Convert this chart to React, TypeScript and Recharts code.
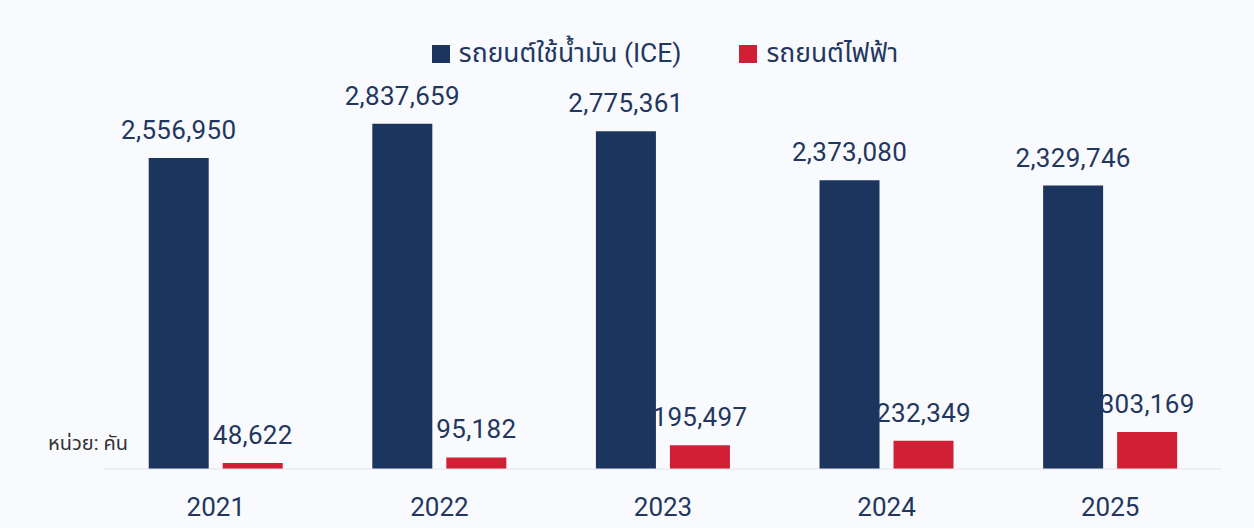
import { BarChart, Bar, XAxis, YAxis, LabelList } from 'recharts';

const years = ['2021', '2022', '2023', '2024', '2025'];
const iceSales = [2556950, 2837659, 2775361, 2373080, 2329746];
const evSales = [48622, 95182, 195497, 232349, 303169];
const seriesNames = ['รถยนต์ใช้น้ำมัน (ICE)', 'รถยนต์ไฟฟ้า'];
const unitLabel = 'หน่วย: คัน';

const NAVY = '#1C355E';
const RED = '#D11F35';
const TEXT = '#22375F';
const FONT = 'Roboto, "Noto Sans Thai", "Noto Sans", sans-serif';

const data = years.map((year, i) => ({
    year,
    ice: iceSales[i],
    ev: evSales[i],
}));

const ValueLabel = (props: any) => {
    const { x, y, width, value } = props;
    return (
        <text
            x={x + width / 2}
            y={y - 19}
            textAnchor="middle"
            fill={TEXT}
            fontSize={26}
            fontFamily={FONT}
            letterSpacing={0.3}
        >
            {Number(value).toLocaleString('en-US')}
        </text>
    );
};

const YearTick = (props: any) => {
    const { x, y, payload } = props;
    return (
        <text x={x} y={y + 39} textAnchor="middle" fill={TEXT} fontSize={26} fontFamily={FONT}>
            {payload.value}
        </text>
    );
};

export default function App() {
    const colors = [NAVY, RED];
    return (
        <div style={{ position: 'fixed', left: 0, top: 0, width: 1254, height: 528, background: '#F9FAFD', fontFamily: FONT }}>
            {/* legend sits right of centre in the original */}
            <div style={{ position: 'absolute', top: 34, left: 0, width: 1254, paddingLeft: 76, boxSizing: 'border-box', display: 'flex', justifyContent: 'center', gap: 58 }}>
                {seriesNames.map((name, i) => (
                    <div key={name} style={{ display: 'flex', alignItems: 'center', gap: 9 }}>
                        <div style={{ width: 18, height: 18, background: colors[i] }} />
                        <span style={{ fontSize: 26.4, color: TEXT }}>{name}</span>
                    </div>
                ))}
            </div>
            <div style={{ position: 'absolute', left: 48, top: 429, fontSize: 20, color: '#333' }}>{unitLabel}</div>
            <BarChart
                width={1254}
                height={528}
                data={data}
                margin={{ top: 104, right: 32, left: 104, bottom: 0 }}
                barCategoryGap="20%"
                barGap={14}
            >
                <XAxis
                    dataKey="year"
                    height={59}
                    axisLine={{ stroke: '#E1E4EA' }}
                    tickLine={false}
                    tick={<YearTick />}
                />
                <YAxis hide domain={[0, 3000000]} />
                <Bar dataKey="ice" fill={NAVY} isAnimationActive={false}>
                    <LabelList dataKey="ice" content={<ValueLabel />} />
                </Bar>
                <Bar dataKey="ev" fill={RED} isAnimationActive={false}>
                    <LabelList dataKey="ev" content={<ValueLabel />} />
                </Bar>
            </BarChart>
        </div>
    );
}
